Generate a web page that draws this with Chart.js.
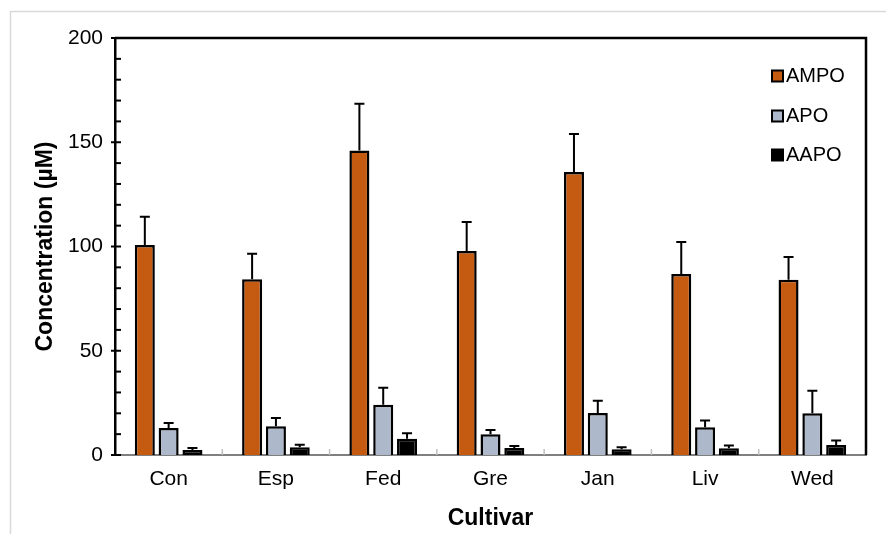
<!DOCTYPE html>
<html>
<head>
<meta charset="utf-8">
<script src="https://cdn.jsdelivr.net/npm/chart.js@4/dist/chart.umd.min.js"></script>
<style>
  html, body { margin: 0; padding: 0; background: #fff; }
  #wrap { width: 886px; height: 534px; position: relative; }
</style>
</head>
<body>
<div id="wrap"><canvas id="c" width="886" height="534"></canvas></div>
<script>
// 品种
const categories = ['Con', 'Esp', 'Fed', 'Gre', 'Jan', 'Liv', 'Wed'];

// 均值
const ampo = [100.7, 84.3, 146.0, 97.8, 135.7, 86.8, 84.0];
const apo = [12.9, 13.8, 24.1, 9.9, 20.1, 13.3, 20.0];
const aapo = [2.4, 3.7, 7.8, 3.4, 2.7, 3.2, 4.8];

// 误差（只画上半）
const ampoErr = [13.6, 12.2, 22.5, 14.0, 18.3, 15.4, 11.0];
const apoErr = [2.4, 3.9, 8.2, 2.1, 5.9, 3.2, 10.8];
const aapoErr = [1.0, 1.2, 2.6, 0.9, 1.0, 1.3, 2.2];

const yTicks = [0, 50, 100, 150, 200];

const seriesNames = ['AMPO', 'APO', 'AAPO'];
const seriesColors = ['#C55A11', '#ADB9CA', '#000000'];
const errors = [ampoErr, apoErr, aapoErr];

const FONT = '"Liberation Sans", Arial, sans-serif';

// 外框、上右边框、刻度、误差线、图例
const decorPlugin = {
  id: 'decor',
  beforeDraw(chart) {
    const ctx = chart.ctx;
    ctx.save();
    ctx.strokeStyle = '#d9d9d9';
    ctx.lineWidth = 1.5;
    ctx.strokeRect(10.5, 11.5, 1000, 1000);
    ctx.restore();
  },
  afterDatasetsDraw(chart) {
    const ctx = chart.ctx;
    const { left, right, top, bottom } = chart.chartArea;
    const y = chart.scales.y;
    const x = chart.scales.x;
    ctx.save();

    // 误差线
    ctx.strokeStyle = '#000';
    ctx.lineWidth = 2;
    chart.data.datasets.forEach((ds, di) => {
      const meta = chart.getDatasetMeta(di);
      meta.data.forEach((bar, i) => {
        const yTop = y.getPixelForValue(ds.data[i] + errors[di][i]);
        ctx.beginPath();
        ctx.moveTo(bar.x, bar.y);
        ctx.lineTo(bar.x, yTop);
        ctx.moveTo(bar.x - 5, yTop);
        ctx.lineTo(bar.x + 5, yTop);
        ctx.stroke();
      });
    });

    // 上、右边框
    ctx.strokeStyle = '#000';
    ctx.lineWidth = 2.5;
    ctx.beginPath();
    ctx.moveTo(left, top);
    ctx.lineTo(right, top);
    ctx.lineTo(right, bottom);
    ctx.stroke();

    // y 轴刻度
    ctx.lineWidth = 2;
    for (let v = 0; v <= 200; v += 10) {
      const py = y.getPixelForValue(v);
      ctx.beginPath();
      ctx.moveTo(v % 50 === 0 ? left - 4 : left, py);
      ctx.lineTo(left + 6, py);
      ctx.stroke();
    }

    // x 轴分隔刻度
    ctx.strokeStyle = '#bfbfbf';
    ctx.lineWidth = 1.5;
    for (let i = 1; i < categories.length; i++) {
      const px = (x.getPixelForValue(i - 1) + x.getPixelForValue(i)) / 2;
      ctx.beginPath();
      ctx.moveTo(px, bottom);
      ctx.lineTo(px, bottom - 6);
      ctx.stroke();
    }

    // 图例
    ctx.font = '20px ' + FONT;
    ctx.textBaseline = 'middle';
    ctx.textAlign = 'left';
    const legendY = [76, 116, 155];
    seriesNames.forEach((name, i) => {
      ctx.fillStyle = seriesColors[i];
      ctx.fillRect(772, legendY[i] - 5.5, 11, 11);
      ctx.strokeStyle = '#000';
      ctx.lineWidth = 2;
      ctx.strokeRect(772, legendY[i] - 5.5, 11, 11);
      ctx.fillStyle = '#000';
      ctx.fillText(name, 786, legendY[i]);
    });
    ctx.restore();
  }
};

const datasets = [ampo, apo, aapo].map((d, i) => ({
  label: seriesNames[i],
  data: d,
  backgroundColor: seriesColors[i],
  borderColor: '#000',
  borderWidth: 2.5,
  categoryPercentage: 0.666,
  barPercentage: 0.84
}));

new Chart(document.getElementById('c'), {
  type: 'bar',
  data: { labels: categories, datasets },
  plugins: [decorPlugin],
  options: {
    responsive: false,
    animation: false,
    layout: { padding: { left: 0, top: 38, right: 20, bottom: 0 } },
    plugins: {
      legend: { display: false },
      tooltip: { enabled: false }
    },
    scales: {
      x: {
        afterFit: s => { s.height = 79; },
        grid: { display: false, drawTicks: false },
        border: { display: true, color: '#7f7f7f', width: 2 },
        ticks: { color: '#000', font: { family: FONT, size: 21 }, padding: 12 },
        title: {
          display: true, text: 'Cultivar', color: '#000',
          font: { family: FONT, size: 23, weight: 'bold' },
          padding: { top: 0, bottom: 2 }
        }
      },
      y: {
        min: 0, max: 200,
        afterFit: s => { s.width = 115; },
        afterBuildTicks: s => { s.ticks = yTicks.map(v => ({ value: v })); },
        grid: { display: false, drawTicks: false },
        border: { display: true, color: '#000', width: 2.5 },
        ticks: { color: '#000', font: { family: FONT, size: 21 }, padding: 12 },
        title: {
          display: true, text: 'Concentration (µM)', color: '#000',
          font: { family: FONT, size: 23, weight: 'bold' },
          padding: { top: 32, bottom: 0 }
        }
      }
    }
  }
});
</script>
</body>
</html>
